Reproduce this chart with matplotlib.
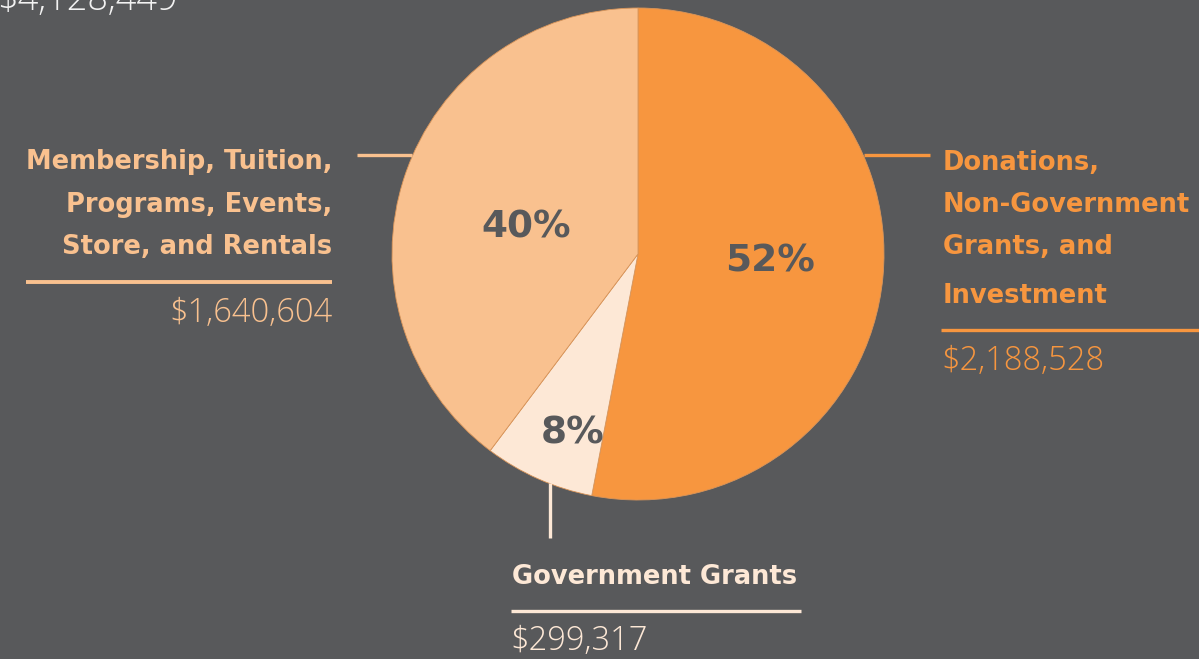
import matplotlib
matplotlib.use("Agg")
import matplotlib.pyplot as plt

# revenue sources
categories = ["Donations, Non-Government Grants, and Investment",
              "Government Grants",
              "Membership, Tuition, Programs, Events, Store, and Rentals"]
amounts = [2188528, 299317, 1640604]
pct_labels = ["52%", "8%", "40%"]
value_labels = ["$2,188,528", "$299,317", "$1,640,604"]
total_label = "$4,128,449"
colors = ["#F7963F", "#FDE8D6", "#F9C18F"]

BG = "#58595B"
W, H = 1199, 659

fig = plt.figure(figsize=(W / 100, H / 100), dpi=100, facecolor=BG)
ax = fig.add_axes([0, 0, 1, 1])
ax.set_facecolor(BG)


def Y(y):
    # pixel row (from top) -> data y
    return H - y


ax.pie(amounts, colors=colors, startangle=90, counterclock=False,
       center=(638, Y(254)), radius=246, frame=True,
       wedgeprops=dict(edgecolor="#D9955A", linewidth=0.6))

ax.set_xlim(0, W)
ax.set_ylim(0, H)
ax.set_aspect("equal")
ax.axis("off")

BOLD = ["DejaVu Sans"]
LIGHT = ["Open Sans", "DejaVu Sans"]

# percentages inside the pie (x centre, baseline)
pct_pos = [(770, 272), (573, 443), (526, 237)]
for txt, (x, y) in zip(pct_labels, pct_pos):
    ax.text(x, Y(y), txt, ha="center", va="baseline", fontsize=27,
            fontweight="bold", color=BG, family=BOLD)

title_kw = dict(fontsize=18.5, fontweight="bold", family=BOLD, va="baseline")
value_kw = dict(fontsize=23.5, fontweight="light", family=LIGHT, va="baseline")
LW = 2.4

# right: donations
c = colors[0]
ax.plot([864, 930], [Y(155), Y(155)], color=c, lw=LW, solid_capstyle="butt")
for line, y in zip(["Donations,", "Non-Government", "Grants, and", "Investment"],
                   [170, 212, 254, 303]):
    ax.text(943, Y(y), line, ha="left", color=c, **title_kw)
ax.plot([941, W], [Y(330), Y(330)], color=c, lw=LW, solid_capstyle="butt")
ax.text(941, Y(370), value_labels[0], ha="left", color=c, **value_kw)

# left: membership
c = colors[2]
ax.plot([357, 412], [Y(155), Y(155)], color=c, lw=LW, solid_capstyle="butt")
for line, y in zip(["Membership, Tuition,", "Programs, Events,", "Store, and Rentals"],
                   [169, 212, 254]):
    ax.text(332, Y(y), line, ha="right", color=c, **title_kw)
ax.plot([26, 332], [Y(282), Y(282)], color=c, lw=LW + 0.4, solid_capstyle="butt")
ax.text(333, Y(322), value_labels[2], ha="right", color=c, **value_kw)

# bottom: government grants
c = colors[1]
ax.plot([550, 550], [Y(483), Y(538)], color=c, lw=LW, solid_capstyle="butt")
ax.text(512, Y(584), "Government Grants", ha="left", color=c, **title_kw)
ax.plot([511, 801], [Y(611), Y(611)], color=c, lw=LW, solid_capstyle="butt")
ax.text(510, Y(650), value_labels[1], ha="left", color=c, **value_kw)

# total, cut off at the top edge as in the original layout
ax.text(-3, Y(10), total_label, ha="left", color="#F2F2F2",
        **{**value_kw, "fontsize": 26})

fig.savefig("out.png", dpi=100, facecolor=BG)
